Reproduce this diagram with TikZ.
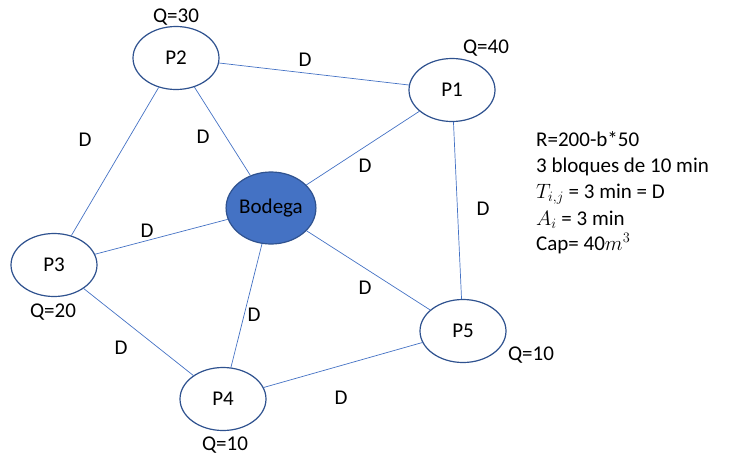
\documentclass[tikz,border=0pt]{standalone}
\usepackage{fontspec}
\setmainfont{Carlito}
\usetikzlibrary{shapes.geometric}
\definecolor{edgeblue}{HTML}{4472C4}
\definecolor{rimblue}{HTML}{2F528F}
\tikzset{
  pnode/.style={ellipse, draw=rimblue, line width=1.2pt, fill=white, minimum width=86pt, minimum height=63pt, inner sep=0pt, font=\fontsize{21}{24}\selectfont},
  bnode/.style={ellipse, draw=rimblue, line width=1.2pt, fill=edgeblue, minimum width=78pt, minimum height=72pt, inner sep=0pt, font=\fontsize{21}{24}\selectfont},
  link/.style={draw=edgeblue, line width=0.7pt},
  lbl/.style={font=\fontsize{21}{24}\selectfont, inner sep=1pt},
  infoline/.style={font=\fontsize{21}{24}\selectfont, inner sep=0pt, anchor=base west},
}
\begin{document}
\begin{tikzpicture}[x=1pt,y=-1pt]
\useasboundingbox (0,0) rectangle (729,458);
\node[pnode] (P2) at (176,58) {P2};
\node[pnode] (P1) at (452,90) {P1};
\node[bnode] (B) at (271,208) {Bodega};
\node[pnode] (P3) at (54,265) {P3};
\node[pnode] (P4) at (223,399) {P4};
\node[pnode] (P5) at (463,331) {P5};

\draw[link] (P2) -- (P1);
\draw[link] (P2) -- (P3);
\draw[link] (P2) -- (B);
\draw[link] (P1) -- (B);
\draw[link] (P1) -- (P5);
\draw[link] (P3) -- (B);
\draw[link] (B) -- (P5);
\draw[link] (B) -- (P4);
\draw[link] (P3) -- (P4);
\draw[link] (P4) -- (P5);

\node[lbl] (d1) at (305,60) {D};
\node[lbl] (d2) at (85,140) {D};
\node[lbl] (d3) at (203,137) {D};
\node[lbl] (d4) at (365,166) {D};
\node[lbl] (d5) at (483,209) {D};
\node[lbl] (d6) at (147,231) {D};
\node[lbl] (d7) at (365,288) {D};
\node[lbl] (d8) at (254,315) {D};
\node[lbl] (d9) at (121,348) {D};
\node[lbl] (d10) at (341,398) {D};

\node[lbl] (q2) at (176,17) {Q=30};
\node[lbl] (q1) at (486,48) {Q=40};
\node[lbl] (q3) at (53,312) {Q=20};
\node[lbl] (q5) at (531,355) {Q=10};
\node[lbl] (q4) at (225,445) {Q=10};

\node[infoline] (i1) at (536,146) {R=200-b*50};
\node[infoline] (i2) at (536,172) {3 bloques de 10 min};
\node[infoline] (i3) at (536,198) {$T_{i,j}$ = 3 min = D};
\node[infoline] (i4) at (536,225) {$A_i$ = 3 min};
\node[infoline] (i5) at (536,250) {Cap= 40$m^3$};
\end{tikzpicture}
\end{document}
